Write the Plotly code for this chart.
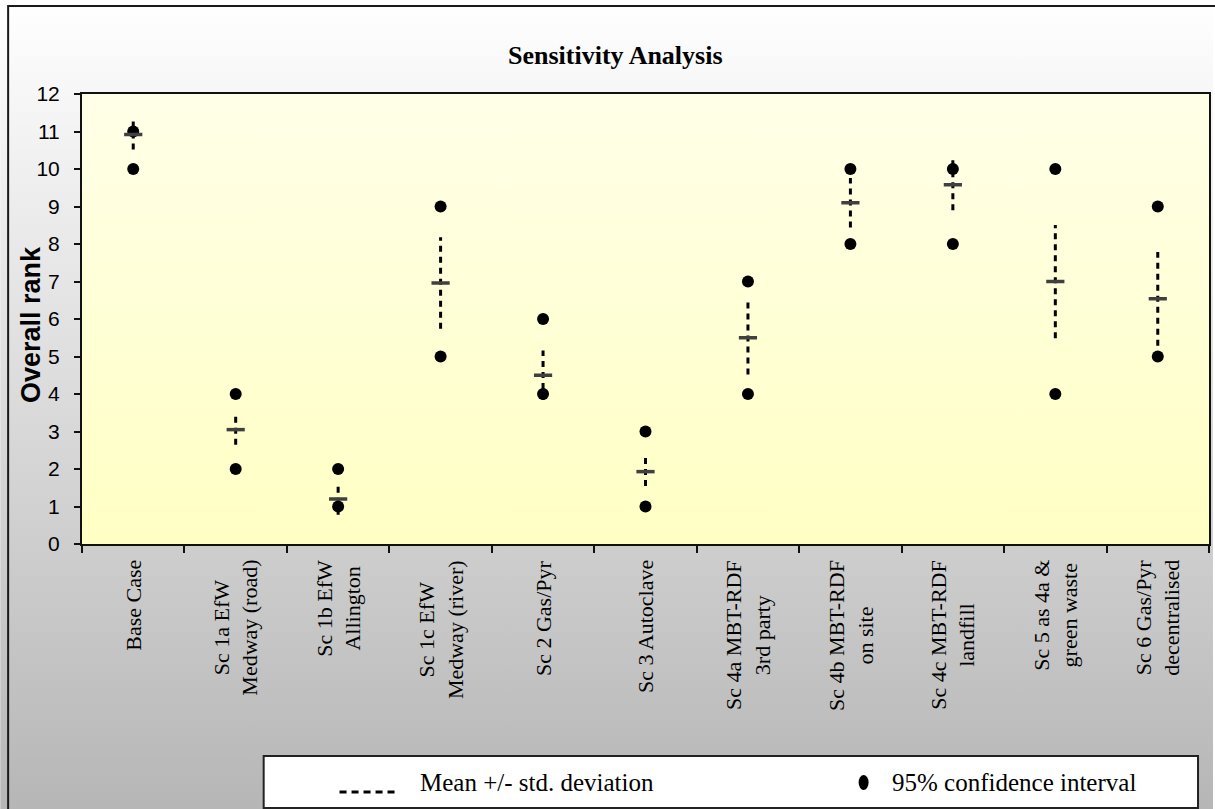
import base64
import plotly.graph_objects as go

# Scenario names (line breaks as they appear under the axis)
categories = [
    "Base Case",
    "Sc 1a EfW<br>Medway (road)",
    "Sc 1b EfW<br>Allington",
    "Sc 1c EfW<br>Medway (river)",
    "Sc 2 Gas/Pyr",
    "Sc 3 Autoclave",
    "Sc 4a MBT-RDF<br>3rd party",
    "Sc 4b MBT-RDF<br>on site",
    "Sc 4c MBT-RDF<br>landfill",
    "Sc 5 as 4a &<br>green waste",
    "Sc 6 Gas/Pyr<br>decentralised",
]

# Overall rank statistics per scenario
mean_rank = [10.92, 3.05, 1.20, 6.96, 4.50, 1.93, 5.50, 9.10, 9.58, 7.00, 6.54]
std_rank = [0.40, 0.40, 0.42, 1.22, 0.66, 0.38, 0.98, 0.66, 0.68, 1.51, 1.25]
ci_low = [10, 2, 1, 5, 4, 1, 4, 8, 8, 4, 5]
ci_high = [11, 4, 2, 9, 6, 3, 7, 10, 10, 10, 9]

y_ticks = list(range(0, 13))

W, H = 1215, 809
L, R, T, B = 82, 4, 94, 265
PW, PH = W - L - R, H - T - B

SERIF = "Liberation Serif, Times New Roman, serif"
SANS = "Liberation Sans, Arial, sans-serif"


def px_x(x):
    return (x - L) / PW


def px_y(y):
    return (H - B - y) / PH


def gradient_uri(top, bottom):
    svg = (
        '<svg xmlns="http://www.w3.org/2000/svg" width="10" height="100" '
        'viewBox="0 0 10 100" preserveAspectRatio="none">'
        '<defs><linearGradient id="g" x1="0" y1="0" x2="0" y2="1">'
        f'<stop offset="0" stop-color="{top}"/>'
        f'<stop offset="1" stop-color="{bottom}"/>'
        '</linearGradient></defs>'
        '<rect width="10" height="100" fill="url(#g)"/></svg>'
    )
    return "data:image/svg+xml;base64," + base64.b64encode(svg.encode()).decode()


# vertical dotted segments: mean +/- one standard deviation
seg_x, seg_y = [], []
for c, m, s in zip(categories, mean_rank, std_rank):
    seg_x += [c, c, None]
    seg_y += [m - s, m + s, None]

fig = go.Figure()

# 95% confidence interval end points
fig.add_trace(go.Scatter(
    x=categories + categories,
    y=ci_low + ci_high,
    mode="markers",
    marker=dict(symbol="circle", size=12, color="black", line=dict(width=0)),
    hoverinfo="skip",
))

fig.add_trace(go.Scatter(
    x=seg_x, y=seg_y, mode="lines",
    line=dict(color="black", width=3, dash="6px,5px"),
    hoverinfo="skip",
))

# mean markers
fig.add_trace(go.Scatter(
    x=categories, y=mean_rank, mode="markers",
    marker=dict(symbol="line-ew", size=13, line=dict(color="#404040", width=3.5)),
    hoverinfo="skip",
))

annotations = []
for c in categories:
    annotations.append(dict(
        x=c, xref="x", y=0, yref="paper", yanchor="top", xanchor="center",
        yshift=-14, textangle=-90, align="center", showarrow=False,
        text=c, font=dict(family=SERIF, size=22, color="black"),
    ))

annotations += [
    dict(x=px_x(616), y=px_y(55), xref="paper", yref="paper",
         xanchor="center", yanchor="middle", showarrow=False,
         text="<b>Sensitivity Analysis</b>",
         font=dict(family=SERIF, size=26, color="black")),
    dict(x=px_x(31), y=px_y(325), xref="paper", yref="paper",
         xanchor="center", yanchor="middle", showarrow=False, textangle=-90,
         text="<b>Overall rank</b>",
         font=dict(family=SANS, size=27, color="black")),
    dict(x=px_x(419), y=px_y(782), xref="paper", yref="paper",
         xanchor="left", yanchor="middle", showarrow=False,
         text="Mean +/- std. deviation",
         font=dict(family=SERIF, size=25, color="black")),
    dict(x=px_x(891), y=px_y(782), xref="paper", yref="paper",
         xanchor="left", yanchor="middle", showarrow=False,
         text="95% confidence interval",
         font=dict(family=SERIF, size=25, color="black")),
]

shapes = [
    # outer chart frame
    dict(type="rect", xref="paper", yref="paper",
         x0=px_x(8), x1=px_x(1222), y0=px_y(6), y1=px_y(816),
         line=dict(color="#1a1a1a", width=2), fillcolor="rgba(0,0,0,0)",
         layer="below"),
    # legend box
    dict(type="rect", xref="paper", yref="paper",
         x0=px_x(264), x1=px_x(1200), y0=px_y(756), y1=px_y(808),
         line=dict(color="#222222", width=2), fillcolor="white"),
    dict(type="line", xref="paper", yref="paper",
         x0=px_x(340), x1=px_x(398), y0=px_y(792), y1=px_y(792),
         line=dict(color="black", width=3, dash="7px,5px")),
    dict(type="circle", xref="paper", yref="paper",
         x0=px_x(860), x1=px_x(870), y0=px_y(775), y1=px_y(790),
         line=dict(width=0), fillcolor="black"),
]

images = [
    dict(source=gradient_uri("#ffffff", "#b6b6b6"), xref="paper", yref="paper",
         x=px_x(0), y=px_y(0), sizex=px_x(W) - px_x(0), sizey=px_y(0) - px_y(H),
         xanchor="left", yanchor="top", sizing="stretch", layer="below"),
    dict(source=gradient_uri("#ffffe8", "#ffffc4"), xref="paper", yref="paper",
         x=0, y=1, sizex=1, sizey=1,
         xanchor="left", yanchor="top", sizing="stretch", layer="below"),
]

fig.update_layout(
    width=W, height=H,
    margin=dict(l=L, r=R, t=T, b=B),
    paper_bgcolor="white",
    plot_bgcolor="rgba(0,0,0,0)",
    showlegend=False,
    annotations=annotations,
    shapes=shapes,
    images=images,
    xaxis=dict(
        type="category", categoryorder="array", categoryarray=categories,
        range=[-0.5, 10.5], showgrid=False, zeroline=False,
        showline=True, linecolor="#111111", linewidth=2, mirror=True,
        ticks="outside", tickson="boundaries", ticklen=7, tickwidth=2,
        tickcolor="#111111", showticklabels=False,
    ),
    yaxis=dict(
        range=[0, 12], tickvals=y_ticks, showgrid=False, zeroline=False,
        showline=True, linecolor="#111111", linewidth=2, mirror=True,
        ticks="outside", ticklen=6, tickwidth=2, tickcolor="#111111",
        ticklabelstandoff=10,
        tickfont=dict(family=SANS, size=21, color="black"),
    ),
)

fig.write_html("out.html")
